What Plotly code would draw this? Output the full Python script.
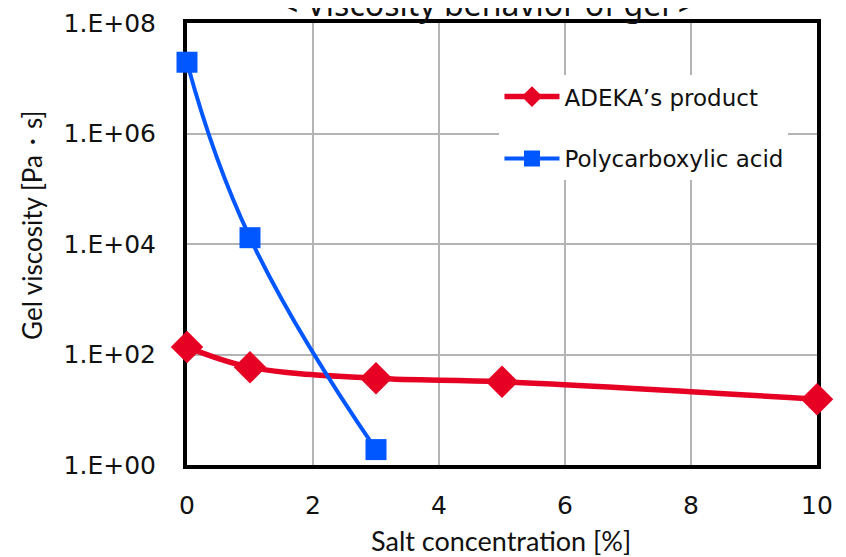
import plotly.graph_objects as go

salt_adeka = [0, 1, 3, 5, 10]
visc_adeka = [137, 59, 37, 32, 15.5]
salt_poly = [0, 1, 3]
visc_poly = [1.95e7, 1.3e4, 1.9]

x_ticks = [0, 2, 4, 6, 8, 10]
y_ticks = [1, 1e2, 1e4, 1e6, 1e8]
y_ticktext = ["1.E+00", "1.E+02", "1.E+04", "1.E+06", "1.E+08"]

red = "#E60024"
blue = "#0057FF"

fig = go.Figure()
fig.add_trace(go.Scatter(
    x=salt_adeka, y=visc_adeka, name="ADEKA\u2019s product",
    mode="lines+markers", legendgroup="a",
    line=dict(color=red, width=5.5, shape="spline", smoothing=1.0),
    marker=dict(symbol="diamond", size=25, color=red),
    cliponaxis=False,
))
fig.add_trace(go.Scatter(
    x=salt_poly, y=visc_poly, name="Polycarboxylic acid",
    mode="lines+markers", legendgroup="b",
    line=dict(color=blue, width=4, shape="spline", smoothing=1.3),
    marker=dict(symbol="square", size=21, color=blue),
    cliponaxis=False,
))

fig.update_layout(
    width=838, height=549,
    margin=dict(l=179, r=29, t=15, b=92),
    paper_bgcolor="white", plot_bgcolor="white",
    showlegend=True,
    legend=dict(
        x=0.496, y=0.882, xanchor="left", yanchor="top",
        bgcolor="white", font=dict(family="DejaVu Sans", size=23, color="#111"),
        traceorder="grouped", tracegroupgap=29, itemwidth=55,
    ),
    xaxis=dict(
        range=[0, 10], tickvals=x_ticks, ticks="outside", ticklen=15,
        tickcolor="rgba(0,0,0,0)", automargin=False,
        tickfont=dict(family="DejaVu Sans", size=25, color="#111"),
        showgrid=True, gridcolor="#b4b4b4", gridwidth=1.5,
        showline=True, linecolor="black", linewidth=4, mirror=True,
        layer="below traces", zeroline=False,
    ),
    yaxis=dict(
        type="log", range=[0, 8], tickvals=y_ticks, ticktext=y_ticktext,
        ticks="outside", ticklen=22, tickcolor="rgba(0,0,0,0)", automargin=False,
        tickfont=dict(family="DejaVu Sans", size=25, color="#111"),
        showgrid=True, gridcolor="#b4b4b4", gridwidth=1.5,
        showline=True, linecolor="black", linewidth=4, mirror=True,
        layer="below traces", zeroline=False,
    ),
    annotations=[
        dict(text="< Viscosity behavior of gel >", xref="paper", yref="paper",
             x=0.478, y=1.0, xanchor="center", yanchor="bottom", showarrow=False,
             font=dict(family="Noto Sans", size=32, color="#111"), yshift=-4),
        dict(text="Salt concentration [%]", xref="paper", yref="paper",
             x=0.498, y=-0.170, xanchor="center", yanchor="middle", showarrow=False,
             font=dict(family="Lato", size=27, color="#111")),
        dict(text="Gel viscosity [Pa\u30fbs]", xref="paper", yref="paper",
             x=-0.246, y=0.541, xanchor="center", yanchor="middle", showarrow=False,
             textangle=-90, font=dict(family="Lato", size=26, color="#111")),
    ],
)

fig.write_html("out.html")
